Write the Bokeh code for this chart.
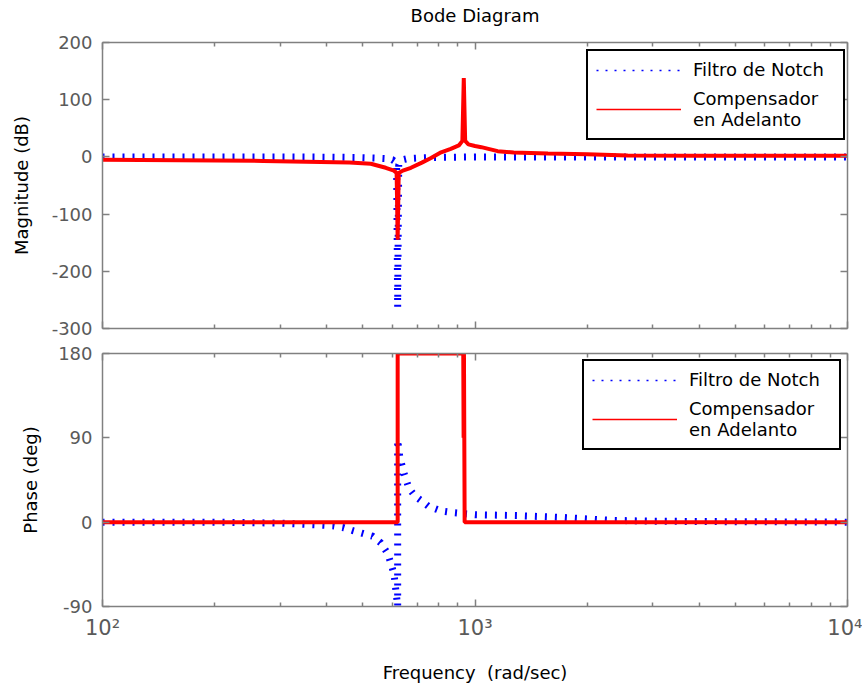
from bokeh.plotting import figure
from bokeh.models import LinearAxis, LogAxis, FixedTicker, Legend, LegendItem, Range1d
from bokeh.layouts import column
from bokeh.embed import file_html
from bokeh.resources import INLINE

# ---------------- data ----------------
notch_mag_freq = [100, 200, 300, 400, 480, 540, 580, 600, 610, 616, 620, 624, 630, 640, 660, 700, 780, 900, 1000, 2000, 5000, 10000]
notch_mag = [0, 0, 0, -0.5, -1, -2, -3, -5, -8, -14, -263, -14, -8, -5, -3, -2, -1, -0.5, 0, 0, 0, 0]

lead_mag_freq = [100, 270, 460, 525, 576, 606, 616, 620, 624, 640, 673, 720, 762, 811, 861, 905, 925, 933, 941, 960, 1000, 1040, 1150, 1270, 1570, 2000, 2570, 4000, 10000]
lead_mag = [-5, -7, -10, -12, -19, -24, -28, -145, -28, -24, -19, -10, -2, 8, 14, 20, 28, 138, 28, 22, 19, 17, 10, 7.5, 6, 4.5, 2.5, 2, 2]

notch_ph_freq = [100, 200, 300, 380, 417, 445, 470, 500, 531, 558, 584, 606, 614, 620, 620, 628, 645, 665, 690, 717, 750, 810, 880, 1000, 1300, 1730, 2300, 3000, 5000, 10000]
notch_ph = [0, 0, -1, -3, -4, -6, -9, -12, -15, -22, -34, -55, -75, -90, 88, 70, 52, 36, 28, 23, 17, 12, 10, 8, 7, 5, 2, 1, 0.5, 0]

lead_ph_freq = [100, 620, 620, 930, 932, 934, 938, 10000]
lead_ph = [0, 0, 180, 180, 90, 180, 0, 0]

x_major = [100, 1000, 10000]
x_minor = [200, 300, 400, 500, 600, 700, 800, 900, 2000, 3000, 4000, 5000, 6000, 7000, 8000, 9000]
x_labels = {100: "10\u00b2", 1000: "10\u00b3", 10000: "10\u2074"}
mag_ticks = [-300, -200, -100, 0, 100, 200]
ph_ticks = [-90, 0, 90, 180]

title_text = "Bode Diagram"
mag_label = "Magnitude (dB)"
ph_label = "Phase (deg)"
x_label = "Frequency\u00a0 (rad/sec)"
name_notch = "Filtro de Notch"
name_lead = "Compensador\nen Adelanto"

FONT = "DejaVu Sans"
AXC = "#808080"
TXT = "#5a5a5a"


def style_axis(ax, labels=True, minor=False):
    ax.axis_line_color = AXC
    ax.axis_line_width = 1.5
    ax.major_tick_line_color = AXC
    ax.major_tick_line_width = 1.5
    ax.minor_tick_line_color = AXC if minor else None
    ax.minor_tick_line_width = 1.5
    ax.major_tick_in = 7
    ax.major_tick_out = 0
    ax.minor_tick_in = 4
    ax.minor_tick_out = 0
    ax.major_label_text_font = FONT
    ax.major_label_text_color = TXT
    ax.major_label_text_font_size = "18px"
    ax.major_label_standoff = 10
    ax.axis_label_text_font = FONT
    ax.axis_label_text_font_style = "normal"
    ax.axis_label_text_font_size = "18px"
    ax.axis_label_text_color = "black"
    if not labels:
        ax.major_label_text_font_size = "1px"
        ax.major_label_text_alpha = 0
        ax.major_label_standoff = 0


def make_fig(height, yr, yticks, border_top, border_bottom):
    p = figure(width=862, height=height, x_axis_type="log",
               x_range=Range1d(100, 10000), y_range=Range1d(*yr),
               output_backend="svg", toolbar_location=None,
               min_border_left=102, min_border_right=15,
               min_border_top=border_top, min_border_bottom=border_bottom,
               background_fill_color="white", border_fill_color="white",
               outline_line_color=None)
    p.grid.visible = False
    p.xaxis.ticker = FixedTicker(ticks=x_major, minor_ticks=x_minor)
    p.yaxis.ticker = FixedTicker(ticks=yticks)
    for ax in p.xaxis:
        style_axis(ax, labels=False, minor=True)
    for ax in p.yaxis:
        style_axis(ax, labels=True)
        ax.major_label_overrides = {t: str(t) for t in yticks}
    ra = LinearAxis(ticker=FixedTicker(ticks=yticks))
    style_axis(ra, labels=False)
    p.add_layout(ra, "right")
    ta = LogAxis(ticker=FixedTicker(ticks=x_major, minor_ticks=x_minor))
    style_axis(ta, labels=False, minor=True)
    p.add_layout(ta, "above")
    return p, ta


def add_legend(p, loc):
    pn = p.line(x=[1.0], y=[float("nan")], line_color="blue", line_width=1.5, line_dash="2 7")
    pl = p.line(x=[1.0], y=[float("nan")], line_color="red", line_width=1.5)
    lg = Legend(items=[LegendItem(label=name_notch, renderers=[pn]),
                       LegendItem(label=name_lead, renderers=[pl])],
                location=loc, padding=8, margin=0, spacing=8,
                glyph_width=85, glyph_height=20, label_standoff=12,
                label_width=142,
                label_text_font=FONT, label_text_font_size="18px",
                label_text_color="black",
                border_line_color="black", border_line_width=2,
                border_line_alpha=1,
                background_fill_color="white", background_fill_alpha=1)
    p.add_layout(lg)


# ---------------- magnitude ----------------
p1, top_axis = make_fig(340, (-300, 200), mag_ticks, 42, 12)
# the chart title, centred above the top plot
top_axis.axis_label = title_text
top_axis.axis_label_standoff = 17
top_axis.axis_label_text_color = "black"
p1.yaxis[0].axis_label = mag_label
p1.yaxis[0].axis_label_standoff = 17
p1.line(notch_mag_freq, notch_mag, line_color="blue", line_width=7, line_dash="2 8")
p1.line(lead_mag_freq, lead_mag, line_color="red", line_width=4)
add_legend(p1, (484, 188))

# ---------------- phase ----------------
p2, _ = make_fig(349, (-90, 180), ph_ticks, 13, 83)
p2.yaxis[0].axis_label = ph_label
p2.yaxis[0].axis_label_standoff = 14
bx = p2.below[0]
bx.major_label_overrides = x_labels
bx.major_label_text_font_size = "21px"
bx.major_label_text_alpha = 1
bx.major_label_standoff = 9
bx.axis_label = x_label
bx.axis_label_standoff = 19
p2.line(notch_ph_freq, notch_ph, line_color="blue", line_width=7, line_dash="2 8")
p2.line(lead_ph_freq, lead_ph, line_color="red", line_width=4)
add_legend(p2, (480, 156))

layout = column(p1, p2)
open("out.html", "w").write(file_html(layout, INLINE))
